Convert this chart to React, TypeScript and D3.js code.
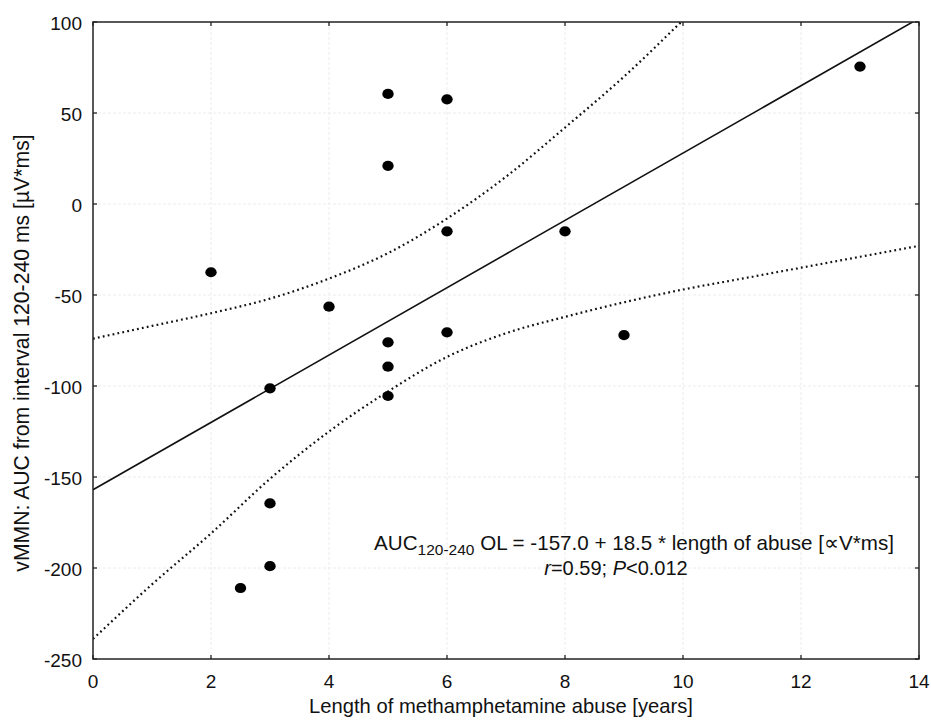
import React from "react";
import * as d3 from "d3";

const years = [2, 2.5, 3, 3, 3, 4, 5, 5, 5, 5, 5, 6, 6, 6, 8, 9, 13];
const auc = [-37.5, -211, -101.3, -164.5, -199, -56.4, 60.5, 21, -76, -89.4, -105.5, 57.5, -15, -70.5, -15, -72, 75.5];

const fitIntercept = -157.0;
const fitSlope = 18.5;

const bandX = [0, 1, 2, 3, 4, 5, 6, 7, 8, 9, 10, 11, 12, 13, 14];
const upperBand = [-74, -67, -60, -52, -41, -27, -8, 15, 42, 70, 101, 133, 166, 200, 236];
const lowerBand = [-239, -209, -181, -151, -125, -103, -84, -71, -62, -54, -47, -41, -35, -29, -23];

const xTicks = [0, 2, 4, 6, 8, 10, 12, 14];
const yTicks = [100, 50, 0, -50, -100, -150, -200, -250];

const W = 931;
const H = 726;
const left = 93;
const right = 919;
const top = 22;
const bottom = 659;

export default function App() {
  const x = d3.scaleLinear().domain([0, 14]).range([left, right]);
  const y = d3.scaleLinear().domain([-250, 100]).range([bottom, top]);

  const line = d3
    .line<[number, number]>()
    .x((d) => x(d[0]))
    .y((d) => y(d[1]))
    .curve(d3.curveMonotoneX);

  const upperPath = line(bandX.map((v, i) => [v, upperBand[i]] as [number, number])) || "";
  const lowerPath = line(lowerBand.map((v, i) => [bandX[i], v] as [number, number])) || "";
  const fitPath =
    d3
      .line<number>()
      .x((d) => x(d))
      .y((d) => y(fitIntercept + fitSlope * d))([0, 14]) || "";

  const font = "Liberation Sans, Arial, Helvetica, sans-serif";
  const tickLen = 4;

  return (
    <svg
      width={W}
      height={H}
      style={{ position: "absolute", left: 0, top: 0, background: "#fff" }}
      fontFamily={font}
    >
      <defs>
        <clipPath id="plotClip">
          <rect x={left} y={top} width={right - left} height={bottom - top} />
        </clipPath>
      </defs>
      <rect x={0} y={0} width={W} height={H} fill="#fff" />
      {/* grid */}
      <g stroke="#ececec" strokeWidth={1} strokeDasharray="3,2">
        {xTicks.slice(1, -1).map((t) => (
          <line key={"gx" + t} x1={x(t)} x2={x(t)} y1={top} y2={bottom} />
        ))}
        {yTicks.slice(1, -1).map((t) => (
          <line key={"gy" + t} x1={left} x2={right} y1={y(t)} y2={y(t)} />
        ))}
      </g>
      {/* lines */}
      <g clipPath="url(#plotClip)" fill="none">
        <path d={fitPath} stroke="#111" strokeWidth={1.6} />
        <path d={upperPath} stroke="#111" strokeWidth={2.2} strokeDasharray="1.8,3.2" />
        <path d={lowerPath} stroke="#111" strokeWidth={2.2} strokeDasharray="1.8,3.2" />
      </g>
      {/* points */}
      <g fill="#000">
        {years.map((v, i) => (
          <ellipse key={i} cx={x(v)} cy={y(auc[i])} rx={5.7} ry={5.1} />
        ))}
      </g>
      {/* frame */}
      <rect
        x={left}
        y={top}
        width={right - left}
        height={bottom - top}
        fill="none"
        stroke="#222"
        strokeWidth={1.5}
      />
      {/* ticks */}
      <g stroke="#222" strokeWidth={1.3}>
        {xTicks.map((t) => (
          <g key={"tx" + t}>
            <line x1={x(t)} x2={x(t)} y1={bottom} y2={bottom - tickLen} />
            <line x1={x(t)} x2={x(t)} y1={top} y2={top + tickLen} />
          </g>
        ))}
        {yTicks.map((t) => (
          <g key={"ty" + t}>
            <line x1={left} x2={left + tickLen} y1={y(t)} y2={y(t)} />
            <line x1={right} x2={right - tickLen} y1={y(t)} y2={y(t)} />
          </g>
        ))}
      </g>
      {/* tick labels */}
      <g fontSize={19} fill="#111">
        {xTicks.map((t) => (
          <text key={"lx" + t} x={x(t)} y={bottom + 29} textAnchor="middle">
            {t}
          </text>
        ))}
        {yTicks.map((t) => (
          <text key={"ly" + t} x={left - 11} y={y(t) + 7.5} textAnchor="end">
            {t}
          </text>
        ))}
      </g>
      {/* axis titles */}
      <text x={501} y={713} fontSize={20.2} textAnchor="middle" fill="#111">
        Length of methamphetamine abuse [years]
      </text>
      <text
        transform={`translate(${29},${353}) rotate(-90)`}
        fontSize={21.2}
        textAnchor="middle"
        fill="#111"
      >
        vMMN: AUC from interval 120-240 ms [µV*ms]
      </text>
      {/* annotation */}
      <text x={634} y={550} fontSize={20.6} textAnchor="middle" fill="#111">
        AUC
        <tspan fontSize={15.5} dy={5}>120-240</tspan>
        <tspan dy={-5}> OL = -157.0 + 18.5 * length of abuse [∝V*ms]</tspan>
      </text>
      <text x={616} y={575} fontSize={20} textAnchor="middle" fill="#111">
        <tspan fontStyle="italic">r</tspan>=0.59; <tspan fontStyle="italic">P</tspan>&lt;0.012
      </text>
    </svg>
  );
}
